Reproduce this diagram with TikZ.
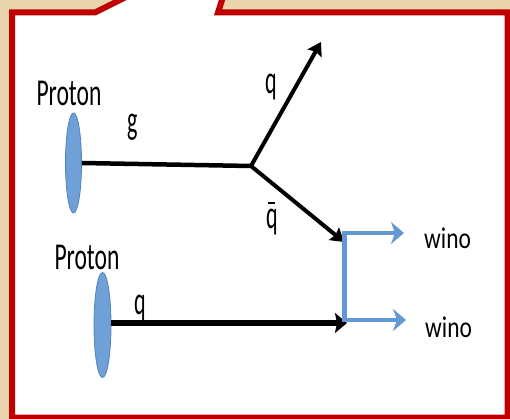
\documentclass[tikz,border=0pt]{standalone}
\usepackage{fontspec}
\setmainfont{Carlito}
\usetikzlibrary{shapes.geometric,arrows.meta}
\definecolor{parch}{RGB}{234,213,172}
\definecolor{frame}{RGB}{192,0,0}
\definecolor{pblue}{RGB}{112,160,216}
\definecolor{pblueedge}{RGB}{84,130,190}
\definecolor{wblue}{RGB}{100,152,212}
\newcommand{\sqz}[2]{\scalebox{#1}[1]{#2}}
\newcommand{\qbar}{\makebox[0pt][l]{\hspace{0.1em}\rule[0.62em]{0.32em}{0.06em}}q}
\tikzset{
  lbl/.style={inner sep=0pt, anchor=base, font=\fontsize{40}{40}\selectfont},
  winolbl/.style={inner sep=0pt, anchor=west, font=\fontsize{30}{30}\selectfont},
  protonlbl/.style={inner sep=0pt, font=\fontsize{38}{38}\selectfont},
  proton/.style={ellipse, draw=pblueedge, line width=0.8pt, fill=pblue, minimum width=16pt, minimum height=100pt, inner sep=0pt},
  quark/.style={line width=4pt, -{Stealth[length=13pt,width=16pt,inset=2pt]}},
  quarkthick/.style={line width=6.5pt, -{Stealth[length=12pt,width=20pt,inset=2pt]}},
  gluon/.style={line width=4.5pt},
  winoline/.style={draw=wblue, line width=4.5pt},
  winoarrow/.style={draw=wblue, line width=4.5pt, -{Stealth[length=13pt,width=22pt,inset=4pt]}},
}
\begin{document}
\begin{tikzpicture}[x=1pt,y=-1pt]
\useasboundingbox (0,0) rectangle (510,419);
\fill[parch] (0,0) rectangle (510,419);
\begin{scope}
\clip (0,0) rectangle (510,419);
\draw[frame, line width=6pt, fill=white, line join=miter]
  (12,430) -- (12,12.5) -- (95,12.5) -- (145,-12.5) -- (226,-12.5) -- (218,12.5) -- (507.5,12.5) -- (507.5,417.5) -- (12,417.5) -- cycle;
\end{scope}
% protons
\node[proton] (p1) at (73.5,163) {};
\node[proton, minimum width=17pt, minimum height=105pt] (p2) at (102.5,325) {};
\node[protonlbl] (t1) at (69,93) {\sqz{0.62}{Proton}};
\node[protonlbl] (t2) at (87,257) {\sqz{0.62}{Proton}};
% vertex and endpoints
\coordinate (v) at (251,166);
\coordinate (qe) at (321,42);
\coordinate (qb) at (344,242);
\coordinate (j2) at (347,323);
\coordinate (b1) at (344.5,233);
\coordinate (b2) at (344.5,320);
\coordinate (w1) at (404,233);
\coordinate (w2) at (406,320);
\draw[gluon] (p1.east) -- (v);
\draw[quark] (v) -- (qe);
\draw[quark] (v) -- (qb);
% labels (bottom q under its line)
\node[lbl] (lg) at (132.5,134) {\sqz{0.55}{g}};
\node[lbl] (lq1) at (271,94) {\sqz{0.55}{q}};
\node[lbl] (lq2) at (272,229) {\sqz{0.55}{\qbar}};
\node[lbl] (lq3) at (140,314) {\sqz{0.55}{q}};
\draw[quarkthick] (p2.east |- j2) -- (j2);
\draw[winoline] ([yshift=2.2pt]b1) -- ([yshift=-2.2pt]b2);
\draw[winoarrow] ([xshift=-2.2pt]b1) -- (w1);
\draw[winoarrow] ([xshift=-2.2pt]b2) -- (w2);
\node[winolbl] (wn1) at (424,238) {\sqz{0.78}{wino}};
\node[winolbl] (wn2) at (425,327) {\sqz{0.78}{wino}};
\end{tikzpicture}
\end{document}
